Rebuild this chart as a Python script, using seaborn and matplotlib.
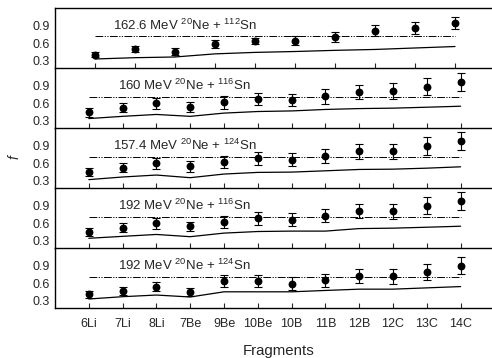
import numpy as np
import pandas as pd
import matplotlib
matplotlib.use('Agg')
import matplotlib.pyplot as plt
import matplotlib.transforms as mtransforms
import seaborn as sns

# 碎片名称（下面四个面板共用）
fragments = ['6Li', '7Li', '8Li', '7Be', '9Be', '10Be', '10B', '11B', '12B', '12C', '13C', '14C']

# 各面板标题
titles = [
    r'162.6 MeV $^{20}$Ne + $^{112}$Sn',
    r'160 MeV $^{20}$Ne + $^{116}$Sn',
    r'157.4 MeV $^{20}$Ne + $^{124}$Sn',
    r'192 MeV $^{20}$Ne + $^{116}$Sn',
    r'192 MeV $^{20}$Ne + $^{124}$Sn',
]

# 面板1 只有10个点
f_exp_1 = [0.405, 0.505, 0.46, 0.583, 0.64, 0.645, 0.71, 0.817, 0.86, 0.94]
f_err_1 = [0.045, 0.05, 0.06, 0.07, 0.055, 0.08, 0.08, 0.10, 0.10, 0.10]
f_calc_1 = [0.333, 0.355, 0.367, 0.42, 0.445, 0.46, 0.48, 0.495, 0.52, 0.545]

f_exp_2 = [0.444, 0.528, 0.60, 0.54, 0.617, 0.67, 0.655, 0.717, 0.79, 0.81, 0.883, 0.967]
f_err_2 = [0.075, 0.07, 0.09, 0.08, 0.11, 0.10, 0.10, 0.125, 0.125, 0.13, 0.15, 0.15]
f_calc_2 = [0.34, 0.378, 0.41, 0.378, 0.433, 0.46, 0.47, 0.495, 0.51, 0.517, 0.533, 0.55]

f_exp_3 = [0.45, 0.528, 0.60, 0.55, 0.622, 0.683, 0.66, 0.728, 0.805, 0.805, 0.90, 0.978]
f_err_3 = [0.07, 0.08, 0.09, 0.09, 0.10, 0.11, 0.11, 0.12, 0.13, 0.13, 0.155, 0.15]
f_calc_3 = [0.322, 0.367, 0.40, 0.355, 0.417, 0.445, 0.45, 0.472, 0.495, 0.50, 0.517, 0.54]

f_exp_4 = [0.45, 0.528, 0.60, 0.55, 0.62, 0.683, 0.66, 0.728, 0.805, 0.805, 0.90, 0.978]
f_err_4 = [0.07, 0.08, 0.09, 0.08, 0.10, 0.11, 0.11, 0.11, 0.12, 0.13, 0.14, 0.15]
f_calc_4 = [0.345, 0.378, 0.41, 0.372, 0.433, 0.46, 0.467, 0.467, 0.51, 0.517, 0.533, 0.55]

f_exp_5 = [0.41, 0.472, 0.544, 0.45, 0.633, 0.633, 0.59, 0.65, 0.717, 0.72, 0.794, 0.90]
f_err_5 = [0.055, 0.07, 0.08, 0.07, 0.10, 0.10, 0.11, 0.11, 0.12, 0.125, 0.13, 0.14]
f_calc_5 = [0.333, 0.372, 0.40, 0.367, 0.455, 0.455, 0.455, 0.478, 0.50, 0.50, 0.522, 0.544]

# 点划线参考水平
f_ref = [0.717, 0.71, 0.71, 0.71, 0.71]

panels = [
    (f_exp_1, f_err_1, f_calc_1),
    (f_exp_2, f_err_2, f_calc_2),
    (f_exp_3, f_err_3, f_calc_3),
    (f_exp_4, f_err_4, f_calc_4),
    (f_exp_5, f_err_5, f_calc_5),
]

sns.set_style('ticks', {'axes.edgecolor': 'black'})
plt.rcParams['font.family'] = ['Liberation Sans', 'DejaVu Sans']
plt.rcParams['mathtext.fontset'] = 'custom'
plt.rcParams['mathtext.rm'] = 'Liberation Sans'
plt.rcParams['mathtext.it'] = 'Liberation Sans:italic'

fig, axes = plt.subplots(5, 1, figsize=(4.92, 3.58), dpi=100)
# 右边缘放到画布外面，避免右侧出现竖线
fig.subplots_adjust(left=0.1118, right=1.02, top=0.9777, bottom=0.1397, hspace=0)

text_x = [0.13, 0.141, 0.13, 0.141, 0.141]

for i, (ax, (f_exp, f_err, f_calc)) in enumerate(zip(axes, panels)):
    n = len(f_exp)
    df = pd.DataFrame({'x': np.arange(n), 'exp': f_exp, 'err': f_err,
                       'calc': f_calc, 'ref': f_ref[i]})

    ax.patch.set_facecolor('none')

    sns.lineplot(data=df, x='x', y='calc', ax=ax, color='black', lw=0.9)
    sns.lineplot(data=df, x='x', y='ref', ax=ax, color='black', lw=0.7)
    ax.lines[-1].set_dashes([8, 1.5, 1.2, 1.5, 1.2, 1.5])
    ax.errorbar(df['x'], df['exp'], yerr=df['err'], fmt='none', ecolor='black',
                elinewidth=0.8, capsize=2.8, capthick=0.8)
    sns.scatterplot(data=df, x='x', y='exp', ax=ax, color='black', s=32,
                    edgecolor='black', linewidth=0, zorder=5)

    ax.set_ylim(0.18, 1.2)
    ax.set_yticks([0.3, 0.6, 0.9])
    ax.set_yticklabels(['0.3', '0.6', '0.9'])
    if i == 0:
        ax.set_xlim(-1, 10.17)
    else:
        ax.set_xlim(-1, 12.22)
    ax.set_xticks(np.arange(n))
    if i == 4:
        ax.set_xticklabels(fragments)
    else:
        ax.set_xticklabels([])
    ax.tick_params(axis='x', direction='in', length=3.5, width=0.8, pad=7, labelsize=9)
    ax.tick_params(axis='y', length=0, pad=4, labelsize=9)
    sns.despine(ax=ax, right=True, top=(i > 0))
    ax.spines['right'].set_color('none')
    for s in ['left', 'bottom', 'top']:
        ax.spines[s].set_linewidth(1.0)
        ax.spines[s].set_color('black')
    ax.set_xlabel('')
    ax.set_ylabel('')

    # 标题放在 y=0.9 的高度
    trans = mtransforms.blended_transform_factory(ax.transAxes, ax.transData)
    ax.text(text_x[i], 0.9, titles[i], transform=trans,
            fontsize=9.5, va='center', ha='left')

axes[4].set_xlabel('Fragments', fontsize=10.8, labelpad=10)
fig.text(0.03, 0.56, 'f', rotation=90, fontstyle='italic', fontsize=10,
         ha='center', va='center')

fig.savefig('out.png', dpi=100)
